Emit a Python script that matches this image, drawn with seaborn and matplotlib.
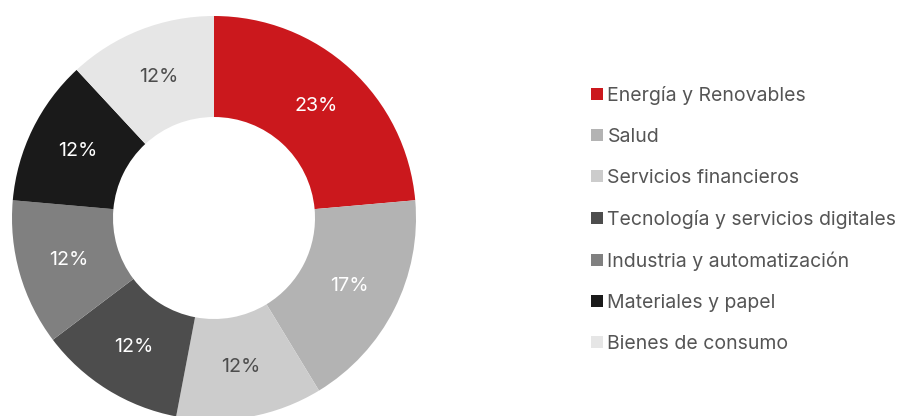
import matplotlib
matplotlib.use("Agg")
import matplotlib.pyplot as plt
import seaborn as sns
from matplotlib.lines import Line2D

sectores = ["Energía y Renovables", "Salud", "Servicios financieros",
            "Tecnología y servicios digitales", "Industria y automatización",
            "Materiales y papel", "Bienes de consumo"]
pesos = [23.6, 17.7, 11.7, 11.7, 11.7, 11.7, 11.9]
etiquetas = ["23%", "17%", "12%", "12%", "12%", "12%", "12%"]
colores = ["#CB181D", "#B3B3B3", "#CCCCCC", "#4D4D4D", "#808080", "#1A1A1A", "#E6E6E6"]
color_etiqueta = ["white", "white", "#4D4D4D", "white", "white", "white", "#4D4D4D"]

sns.set_theme(style="white")
plt.rcParams["font.family"] = ["Inter", "DejaVu Sans"]

fig = plt.figure(figsize=(8.98, 4.16), dpi=100)
ax = fig.add_axes([12 / 898, -4 / 416, 404 / 898, 404 / 416])

lbl_iter = iter(etiquetas)
wedges, texts, autotexts = ax.pie(
    pesos, colors=colores, startangle=90, counterclock=False,
    autopct=lambda p: next(lbl_iter), pctdistance=0.75,
    wedgeprops=dict(width=0.5, linewidth=0),
    textprops=dict(fontsize=14.2),
)
for t, c in zip(autotexts, color_etiqueta):
    t.set_color(c)
ax.set_xlim(-1, 1)
ax.set_ylim(-1, 1)
ax.set_aspect("equal")
ax.axis("off")

handles = [Line2D([0], [0], marker="s", linestyle="none", markersize=9,
                  markerfacecolor=c, markeredgewidth=0) for c in colores]
leg = fig.legend(handles, sectores, loc="upper left", bbox_to_anchor=(589 / 898, 1 - 86 / 416),
                 frameon=False, fontsize=14, labelspacing=1.18, handlelength=0.8,
                 handletextpad=0.15, borderpad=0, borderaxespad=0)
for t in leg.get_texts():
    t.set_color("#555555")

fig.savefig("out.png", dpi=100)
